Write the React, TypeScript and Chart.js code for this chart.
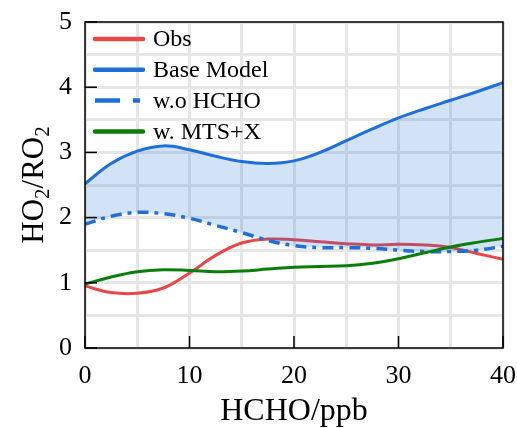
import React, { useEffect, useRef } from 'react';
import { Chart, registerables } from 'chart.js';
Chart.register(...registerables);

const hcho = [0, 2.5, 5, 7.5, 10, 12.5, 15, 17.5, 20, 22.5, 25, 27.5, 30, 32.5, 35, 37.5, 40];
const obs = [0.95, 0.85, 0.84, 0.92, 1.15, 1.42, 1.61, 1.67, 1.66, 1.63, 1.6, 1.58, 1.59, 1.58, 1.54, 1.45, 1.36];
const baseModel = [2.52, 2.83, 3.02, 3.1, 3.04, 2.94, 2.86, 2.83, 2.87, 3.0, 3.18, 3.36, 3.53, 3.67, 3.8, 3.93, 4.07];
const woHcho = [1.9, 2.02, 2.08, 2.06, 1.99, 1.88, 1.77, 1.65, 1.57, 1.54, 1.54, 1.53, 1.5, 1.48, 1.48, 1.5, 1.56];
const mtsX = [0.98, 1.09, 1.17, 1.2, 1.19, 1.17, 1.18, 1.21, 1.24, 1.25, 1.26, 1.3, 1.37, 1.46, 1.55, 1.62, 1.68];
const seriesNames = ['Obs', 'Base Model', 'w.o HCHO', 'w. MTS+X'];
const xTitle = 'HCHO/ppb';
const xTicks = [0, 10, 20, 30, 40];
const yTicks = [0, 1, 2, 3, 4, 5];

const RED = '#e8474a';
const BLUE = '#1f6fd8';
const GREEN = '#0a7d0a';
const FONT = '"Liberation Serif", "Times New Roman", serif';

const pts = (ys: number[]) => hcho.map((x, i) => ({ x, y: ys[i] }));

const decorPlugin = {
  id: 'decor',
  afterDraw(chart: any) {
    const { ctx, chartArea: a, scales } = chart;
    ctx.save();
    // frame
    ctx.strokeStyle = '#000';
    ctx.lineWidth = 1.5;
    ctx.strokeRect(a.left, a.top, a.right - a.left, a.bottom - a.top);
    // inner ticks
    for (const v of xTicks) {
      const px = scales.x.getPixelForValue(v);
      ctx.beginPath();
      ctx.moveTo(px, a.bottom);
      ctx.lineTo(px, a.bottom - 12);
      ctx.stroke();
    }
    for (const v of yTicks) {
      const py = scales.y.getPixelForValue(v);
      ctx.beginPath();
      ctx.moveTo(a.left, py);
      ctx.lineTo(a.left + 12, py);
      ctx.stroke();
    }
    // legend
    const colors = [RED, BLUE, BLUE, GREEN];
    const lx0 = 95, lx1 = 143;
    ctx.font = `24px ${FONT}`;
    ctx.textBaseline = 'middle';
    ctx.fillStyle = '#000';
    seriesNames.forEach((name, i) => {
      const y = 39 + i * 30.8;
      ctx.strokeStyle = colors[i];
      ctx.lineWidth = 4.5;
      ctx.lineCap = i === 2 ? 'butt' : 'round';
      ctx.setLineDash(i === 2 ? [25, 13, 7, 13] : []);
      ctx.beginPath();
      ctx.moveTo(lx0, y);
      ctx.lineTo(lx1, y);
      ctx.stroke();
      ctx.setLineDash([]);
      ctx.fillText(name, 153, y + 1);
    });
    // x title
    ctx.font = `32px ${FONT}`;
    ctx.textAlign = 'center';
    ctx.textBaseline = 'middle';
    ctx.fillText(xTitle, (a.left + a.right) / 2, 412);
    // y title with subscripts
    const parts: [string, boolean][] = [['HO', false], ['2', true], ['/RO', false], ['2', true]];
    const mainF = `31px ${FONT}`;
    const subF = `21px ${FONT}`;
    let total = 0;
    for (const [t, sub] of parts) {
      ctx.font = sub ? subF : mainF;
      total += ctx.measureText(t).width;
    }
    ctx.translate(33, (a.top + a.bottom) / 2);
    ctx.rotate(-Math.PI / 2);
    ctx.textAlign = 'left';
    ctx.textBaseline = 'alphabetic';
    let cx = -total / 2;
    for (const [t, sub] of parts) {
      ctx.font = sub ? subF : mainF;
      ctx.fillText(t, cx, sub ? 16 : 10);
      cx += ctx.measureText(t).width;
    }
    ctx.restore();
  },
};

export default function App() {
  const ref = useRef<HTMLCanvasElement>(null);
  useEffect(() => {
    document.body.style.margin = '0';
    const canvas = ref.current!;
    const chart = new Chart(canvas, {
      type: 'line',
      data: {
        datasets: [
          { label: seriesNames[0], data: pts(obs), borderColor: RED, borderWidth: 3, pointRadius: 0, tension: 0.4, fill: false, order: 3 },
          { label: seriesNames[1], data: pts(baseModel), borderColor: BLUE, borderWidth: 3, pointRadius: 0, tension: 0.4, fill: '+1', backgroundColor: 'rgba(31,111,216,0.2)', order: 2 },
          { label: seriesNames[2], data: pts(woHcho), borderColor: BLUE, borderWidth: 3.5, borderDash: [11, 6, 4, 6], pointRadius: 0, tension: 0.4, fill: false, order: 1 },
          { label: seriesNames[3], data: pts(mtsX), borderColor: GREEN, borderWidth: 3, pointRadius: 0, tension: 0.4, fill: false, order: 0 },
        ],
      } as any,
      options: {
        responsive: false,
        animation: false,
        layout: { padding: { top: 22, right: 14, left: 0, bottom: 0 } },
        plugins: { legend: { display: false }, tooltip: { enabled: false } },
        scales: {
          x: {
            type: 'linear',
            min: 0,
            max: 40,
            afterFit: (s: any) => { s.height = 80; s.paddingLeft = 0; s.paddingRight = 0; },
            ticks: {
              stepSize: 5,
              autoSkip: false,
              maxRotation: 0,
              padding: 13,
              color: '#000',
              font: { family: FONT, size: 26 },
              callback: (v: any) => (Number(v) % 10 === 0 ? String(v) : ''),
            },
            grid: { color: '#e6e6e6', lineWidth: 3, drawTicks: false },
            border: { display: false },
          },
          y: {
            min: 0,
            max: 5,
            afterFit: (s: any) => { s.width = 85; s.paddingTop = 0; s.paddingBottom = 0; },
            ticks: {
              stepSize: 0.5,
              autoSkip: false,
              padding: 13,
              color: '#000',
              font: { family: FONT, size: 26 },
              callback: (v: any) => (Number(v) % 1 === 0 ? String(v) : ''),
            },
            grid: { color: '#e6e6e6', lineWidth: 3, drawTicks: false },
            border: { display: false },
          },
        },
      },
      plugins: [decorPlugin],
    } as any);
    return () => chart.destroy();
  }, []);
  return (
    <div style={{ width: 517, height: 428 }}>
      <canvas ref={ref} width={517} height={428} style={{ display: 'block' }} />
    </div>
  );
}
